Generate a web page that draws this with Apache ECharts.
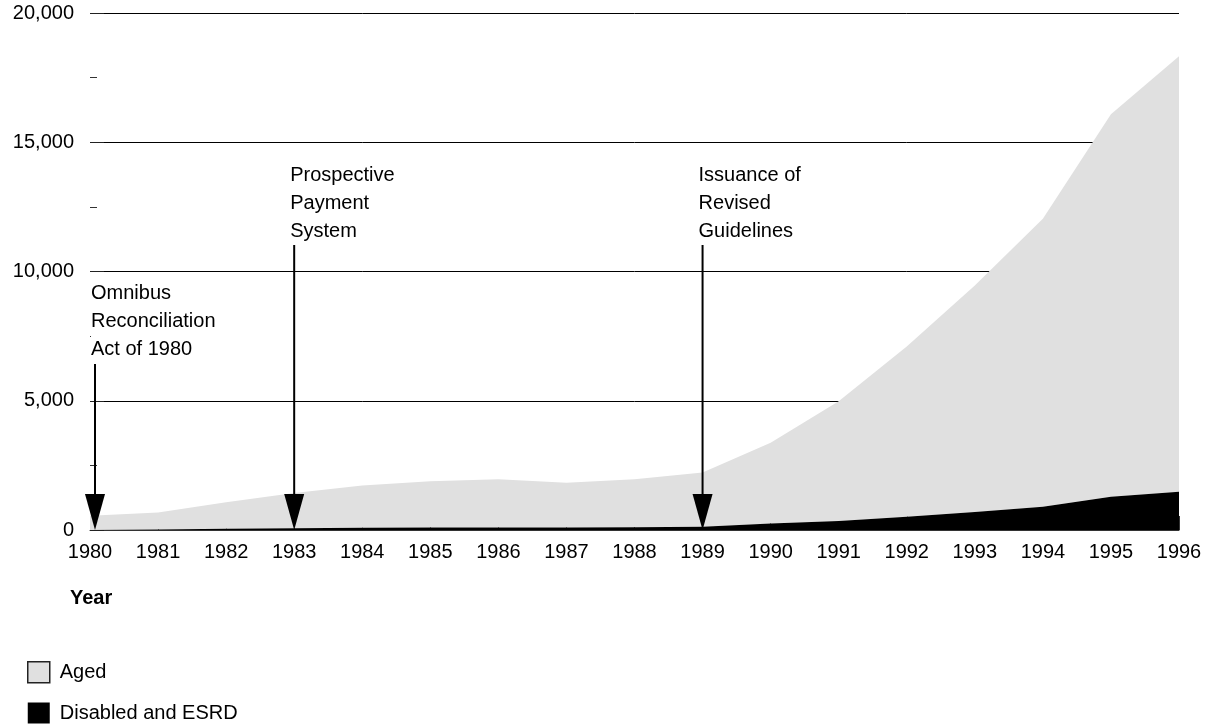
<!DOCTYPE html>
<html>
<head>
<meta charset="utf-8">
<script src="https://cdn.jsdelivr.net/npm/echarts@6/dist/echarts.min.js"></script>
<style>
  html, body { margin: 0; padding: 0; background: #fff; }
  #chart { width: 1205px; height: 725px; }
</style>
</head>
<body>
<div id="chart"></div>
<script>
// ---- data ----
const years = ['1980','1981','1982','1983','1984','1985','1986','1987','1988','1989','1990','1991','1992','1993','1994','1995','1996'];
const disabledESRD = [0, 20, 50, 70, 90, 100, 100, 100, 110, 130, 250, 350, 510, 700, 900, 1290, 1480];
const aged = [555, 660, 1020, 1365, 1630, 1785, 1860, 1730, 1850, 2090, 3130, 4630, 6590, 8760, 11140, 14790, 16850];
const yTicks = [0, 5000, 10000, 15000, 20000];
// annotation events: year and the value where the arrow starts
const eventYears = ['1980', '1983', '1989'];
const eventTops = [6500, 11100, 11100];
const eventLabels = ['Omnibus\nReconciliation\nAct of 1980', 'Prospective\nPayment\nSystem', 'Issuance of\nRevised\nGuidelines'];

const FONT = '"Liberation Sans", Arial, Helvetica, sans-serif';
const chart = echarts.init(document.getElementById('chart'), null, { renderer: 'canvas' });

function renderArrow(params, api) {
  const top = api.coord([api.value(0), api.value(1)]);
  const base = api.coord([api.value(0), 0]);
  const x = Math.max(top[0], params.coordSys.x + 5);
  const headH = 36, headW = 20;
  return {
    type: 'group',
    children: [
      { type: 'line', shape: { x1: x, y1: top[1], x2: x, y2: base[1] - headH + 2 },
        style: { stroke: '#000', lineWidth: 2 } },
      { type: 'polygon', shape: { points: [[x - headW / 2, base[1] - headH], [x + headW / 2, base[1] - headH], [x, base[1]]] },
        style: { fill: '#000' } },
      { type: 'text', x: x - 4, y: top[1] + 2,
        style: { text: eventLabels[params.dataIndex], fontSize: 20, fontFamily: FONT, fill: '#000',
                 align: 'left', verticalAlign: 'bottom', lineHeight: 28,
                 backgroundColor: '#fff', padding: [0, 0, 0, 0] } }
    ]
  };
}

const option = {
  animation: false,
  backgroundColor: '#fff',
  textStyle: { fontFamily: FONT, color: '#000' },
  title: {
    text: 'Year', left: 70, top: 588, padding: 0,
    textStyle: { fontSize: 20, fontWeight: 'bold', fontFamily: FONT, color: '#000' }
  },
  legend: {
    orient: 'vertical', left: 27, top: 661, padding: 0,
    itemWidth: 22, itemHeight: 21, itemGap: 19,
    selectedMode: false,
    textStyle: { fontSize: 20, fontFamily: FONT, color: '#000', padding: [0, 0, 0, 5] },
    data: [
      { name: 'Aged', icon: 'rect', itemStyle: { color: '#e0e0e0', borderColor: '#222', borderWidth: 1.5 } },
      { name: 'Disabled and ESRD', icon: 'rect', itemStyle: { color: '#000', borderWidth: 0 } }
    ]
  },
  grid: { left: 90, right: 26, top: 13, bottom: 195, containLabel: false },
  xAxis: {
    type: 'category',
    data: years,
    boundaryGap: false,
    axisLine: { show: true, lineStyle: { color: '#333', width: 1 } },
    axisTick: { show: true, inside: true, length: 14, lineStyle: { color: '#333' } },
    axisLabel: { fontSize: 20, fontFamily: FONT, color: '#000', margin: 12 },
    splitLine: { show: false }
  },
  yAxis: {
    type: 'value',
    min: yTicks[0], max: yTicks[yTicks.length - 1], interval: yTicks[1] - yTicks[0],
    axisLine: { show: false },
    axisTick: { show: true, inside: true, length: 14, lineStyle: { color: '#222' } },
    minorTick: { show: true, splitNumber: 2, length: 7, lineStyle: { color: '#333' } },
    axisLabel: { fontSize: 20, fontFamily: FONT, color: '#000', margin: 16, padding: [6, 0, 0, 0],
                 formatter: v => v.toLocaleString('en-US') },
    splitLine: { show: true, lineStyle: { color: '#000', width: 1 } }
  },
  series: [
    {
      name: 'Disabled and ESRD', type: 'line', stack: 'total', data: disabledESRD,
      symbol: 'none', lineStyle: { width: 0, opacity: 0 },
      areaStyle: { color: '#000', opacity: 1 }, itemStyle: { color: '#000' }, z: 3
    },
    {
      name: 'Aged', type: 'line', stack: 'total', data: aged,
      symbol: 'none', lineStyle: { width: 0, opacity: 0 },
      areaStyle: { color: '#e0e0e0', opacity: 1 }, itemStyle: { color: '#e0e0e0' }, z: 2
    },
    {
      name: 'events', type: 'custom', renderItem: renderArrow, clip: false, z: 10,
      data: eventYears.map((y, i) => [y, eventTops[i]])
    }
  ]
};
chart.setOption(option);
</script>
</body>
</html>
